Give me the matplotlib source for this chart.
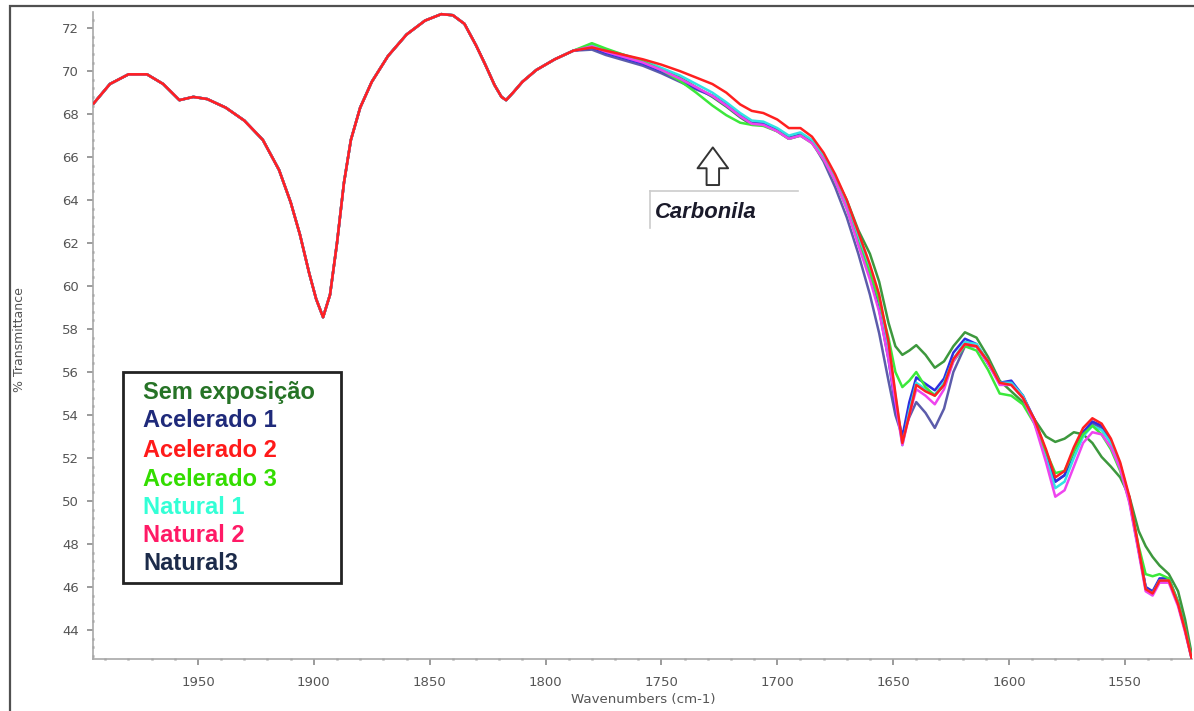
import numpy as np
import matplotlib
matplotlib.use("Agg")
import matplotlib.pyplot as plt
from matplotlib.patches import Rectangle
from matplotlib.lines import Line2D
from matplotlib.ticker import MultipleLocator

# ---------------- data ----------------
# common part of the spectrum (all samples overlap here)
wn_shared = [1995, 1988, 1980, 1972, 1965, 1958, 1952, 1946, 1938, 1930, 1922, 1915,
             1910, 1906, 1902, 1899, 1896, 1893, 1890, 1887, 1884, 1880, 1875, 1868,
             1860, 1852, 1845, 1840, 1835, 1830, 1826, 1822, 1819, 1817, 1814, 1810,
             1804, 1796, 1788]
t_shared = [68.5, 69.4, 69.85, 69.85, 69.4, 68.65, 68.8, 68.7, 68.3, 67.7, 66.8, 65.4,
            63.9, 62.4, 60.6, 59.4, 58.55, 59.6, 62.0, 64.8, 66.8, 68.3, 69.5, 70.7,
            71.7, 72.35, 72.65, 72.6, 72.2, 71.2, 70.3, 69.35, 68.8, 68.65, 69.0, 69.5,
            70.05, 70.55, 70.95]

# part where the samples separate
wn_split = [1780, 1774, 1766, 1758, 1750, 1742, 1735, 1728, 1722, 1716, 1711, 1706,
            1700, 1695, 1690, 1685, 1680, 1675, 1670, 1665, 1660, 1656, 1652, 1649,
            1646, 1643, 1640, 1636, 1632, 1628, 1624, 1619, 1614, 1609, 1604, 1599,
            1594, 1589, 1584, 1580, 1576, 1572, 1568, 1564, 1560, 1556, 1552, 1548,
            1544, 1541, 1538, 1535, 1531, 1527, 1524, 1521]

t_sem_exposicao = [71.2, 71.0, 70.7, 70.45, 70.1, 69.7, 69.25, 68.8, 68.35, 67.85, 67.5, 67.5,
                   67.2, 66.85, 67.0, 66.7, 66.0, 65.1, 64.0, 62.6, 61.5, 60.2, 58.3, 57.2,
                   56.8, 57.0, 57.25, 56.8, 56.2, 56.5, 57.2, 57.85, 57.6, 56.7, 55.6, 55.1,
                   54.6, 53.8, 53.0, 52.75, 52.9, 53.2, 53.1, 52.7, 52.05, 51.6, 51.1, 50.2,
                   48.6, 47.9, 47.4, 47.0, 46.6, 45.8, 44.5, 42.8]
t_acelerado1 = [71.1, 70.85, 70.6, 70.35, 70.0, 69.6, 69.2, 68.85, 68.4, 67.9, 67.55, 67.55,
                67.25, 66.9, 67.05, 66.7, 65.95, 64.95, 63.7, 62.1, 60.5, 58.9, 56.6, 54.4,
                53.0, 54.6, 55.75, 55.45, 55.15, 55.7, 56.9, 57.55, 57.3, 56.4, 55.5, 55.6,
                54.9, 53.8, 52.3, 50.9, 51.2, 52.3, 53.2, 53.7, 53.5, 52.8, 51.7, 50.1,
                47.7, 46.0, 45.8, 46.4, 46.4, 45.3, 44.1, 42.65]
t_acelerado2 = [71.1, 70.95, 70.75, 70.55, 70.3, 70.0, 69.7, 69.4, 69.0, 68.45, 68.15, 68.05,
                67.75, 67.35, 67.35, 66.95, 66.2, 65.2, 64.0, 62.5, 61.0, 59.6, 57.4, 55.0,
                52.7, 54.0, 55.4, 55.1, 54.9, 55.4, 56.6, 57.3, 57.2, 56.5, 55.5, 55.4,
                54.8, 53.8, 52.4, 51.1, 51.4, 52.5, 53.4, 53.85, 53.6, 52.9, 51.8, 50.2,
                47.8, 45.9, 45.7, 46.3, 46.3, 45.2, 44.0, 42.6]
t_acelerado3 = [71.3, 71.05, 70.75, 70.45, 70.05, 69.55, 69.0, 68.4, 67.95, 67.6, 67.5, 67.45,
                67.2, 66.85, 67.0, 66.65, 65.9, 64.9, 63.6, 62.0, 60.6, 59.3, 57.6, 56.0,
                55.3, 55.6, 56.0, 55.3, 54.9, 55.4, 56.5, 57.2, 57.0, 56.1, 55.0, 54.9,
                54.5, 53.6, 52.3, 51.3, 51.4, 52.3, 53.1, 53.5, 53.1, 52.4, 51.4, 50.0,
                47.9, 46.6, 46.5, 46.6, 46.4, 45.3, 44.1, 42.7]
t_natural1 = [71.2, 71.0, 70.75, 70.5, 70.15, 69.8, 69.4, 69.0, 68.55, 68.05, 67.7, 67.65,
              67.35, 67.0, 67.15, 66.8, 66.05, 65.05, 63.85, 62.3, 60.8, 59.4, 57.2, 54.9,
              52.6, 54.2, 55.5, 55.2, 54.95, 55.5, 56.6, 57.4, 57.3, 56.5, 55.5, 55.5,
              54.9, 53.7, 52.0, 50.6, 50.9, 52.0, 53.0, 53.5, 53.3, 52.7, 51.6, 50.0,
              47.7, 45.9, 45.7, 46.3, 46.3, 45.2, 44.0, 42.6]
t_natural2 = [71.15, 70.9, 70.65, 70.4, 70.05, 69.65, 69.25, 68.85, 68.4, 67.9, 67.55, 67.5,
              67.2, 66.85, 67.0, 66.65, 65.9, 64.9, 63.6, 61.9, 60.3, 58.8, 56.6, 54.6,
              52.6, 54.0, 55.2, 54.9, 54.5, 55.2, 56.5, 57.3, 57.2, 56.4, 55.4, 55.4,
              54.8, 53.6, 51.8, 50.2, 50.5, 51.6, 52.7, 53.2, 53.1, 52.5, 51.5, 49.9,
              47.6, 45.8, 45.6, 46.2, 46.2, 45.1, 43.9, 42.6]
t_natural3 = [71.0, 70.75, 70.5, 70.25, 69.9, 69.5, 69.15, 68.85, 68.45, 67.95, 67.6, 67.55,
              67.25, 66.9, 67.05, 66.7, 65.8, 64.6, 63.2, 61.5, 59.6, 57.8, 55.6, 54.0,
              53.0, 53.9, 54.6, 54.1, 53.4, 54.3, 56.0, 57.2, 57.2, 56.4, 55.5, 55.5,
              54.9, 53.7, 52.2, 50.9, 51.2, 52.3, 53.2, 53.6, 53.4, 52.7, 51.6, 50.0,
              47.7, 46.0, 45.7, 46.3, 46.3, 45.2, 44.0, 42.6]

series_names = ["Sem exposição", "Acelerado 1", "Acelerado 2", "Acelerado 3",
                "Natural 1", "Natural 2", "Natural3"]
series_values = [t_sem_exposicao, t_acelerado1, t_acelerado2, t_acelerado3,
                 t_natural1, t_natural2, t_natural3]

y_ticks = list(range(44, 73, 2))
x_ticks = [1950, 1900, 1850, 1800, 1750, 1700, 1650, 1600, 1550]

# ---------------- styles ----------------
line_colors = {"Sem exposição": "#3d983d", "Acelerado 1": "#2d2de0", "Acelerado 2": "#ff2020",
               "Acelerado 3": "#3be83b", "Natural 1": "#30e3e3", "Natural 2": "#ee44ee",
               "Natural3": "#5c5cab"}
legend_colors = {"Sem exposição": "#267326", "Acelerado 1": "#1f2a7a", "Acelerado 2": "#ff1a1a",
                 "Acelerado 3": "#33dd00", "Natural 1": "#33ffd6", "Natural 2": "#ff1a66",
                 "Natural3": "#1c2b4a"}
draw_order = ["Sem exposição", "Natural3", "Acelerado 1", "Natural 1", "Acelerado 3",
              "Natural 2", "Acelerado 2"]

W, H = 1194, 711
fig = plt.figure(figsize=(W / 100, H / 100), dpi=100)
fig.patch.set_facecolor("white")
ax = fig.add_axes([93 / W, 1 - 659 / H, (1192 - 93) / W, (659 - 12) / H])

wn_all = np.array(wn_shared + wn_split, dtype=float)
for name in draw_order:
    vals = series_values[series_names.index(name)]
    ax.plot(wn_all, np.array(t_shared + vals), color=line_colors[name], lw=1.8,
            solid_joinstyle="round", zorder=3)

ax.set_xlim(1995.3, 1521)
ax.set_ylim(42.65, 72.75)

for s in ["top", "right"]:
    ax.spines[s].set_visible(False)
for s in ["left", "bottom"]:
    ax.spines[s].set_color("#a8a8a8")
    ax.spines[s].set_linewidth(1.2)

ax.set_yticks(y_ticks)
ax.set_xticks(x_ticks)
ax.yaxis.set_minor_locator(MultipleLocator(0.4))
ax.xaxis.set_minor_locator(MultipleLocator(10))
ax.tick_params(axis="both", which="major", direction="out", length=4, width=1.2,
               color="#8a8a8a", labelcolor="#555555", labelsize=9.5)
ax.tick_params(axis="both", which="minor", direction="inout", length=2, width=1.8,
               color="#a0a0a0")
ax.tick_params(axis="y", which="major", pad=6)
ax.tick_params(axis="x", which="major", pad=8)

fig.text(20 / W, 1 - 340 / H, "% Transmittance", rotation=90, ha="center", va="center",
         fontsize=9, color="#555555")
fig.text(643 / W, 1 - 700 / H, "Wavenumbers (cm-1)", ha="center", va="center",
         fontsize=9.6, color="#555555")

# outer frame of the picture
fig.patches.append(Rectangle((10 / W, -0.05), 1.2, 1 - 6 / H + 0.05,
                             transform=fig.transFigure, fill=False,
                             ec="#505050", lw=1.6, zorder=0))

# legend box
fig.patches.append(Rectangle((123 / W, 1 - 583 / H), 218 / W, 211 / H,
                             transform=fig.transFigure, fill=True, fc="white",
                             ec="#222222", lw=2.0, zorder=5))
legend_y = [392, 421, 450, 479, 507, 536, 564]
for name, yy in zip(series_names, legend_y):
    fig.text(143 / W, 1 - yy / H, name, ha="left", va="center", fontsize=17,
             fontweight="bold", family=["Liberation Sans", "DejaVu Sans"],
             color=legend_colors[name], zorder=6)

# Carbonila annotation
fig.add_artist(Line2D([650 / W, 798 / W], [1 - 191 / H, 1 - 191 / H],
                      transform=fig.transFigure, color="#cccccc", lw=1.2))
fig.add_artist(Line2D([650 / W, 650 / W], [1 - 191 / H, 1 - 228 / H],
                      transform=fig.transFigure, color="#cccccc", lw=1.2))
fig.text(655 / W, 1 - 212 / H, "Carbonila", ha="left", va="center", fontsize=15.8,
         fontweight="bold", fontstyle="italic", family=["Liberation Sans", "DejaVu Sans"],
         color="#1a1a2a")
ax.annotate("", xy=(1727.8, 66.45), xytext=(1727.8, 64.7),
            arrowprops=dict(arrowstyle="simple,head_length=0.75,head_width=1.1,tail_width=0.45",
                            fc="white", ec="#333333", lw=1.4, mutation_scale=20,
                            shrinkA=0, shrinkB=0))

fig.savefig("out.png", dpi=100)
